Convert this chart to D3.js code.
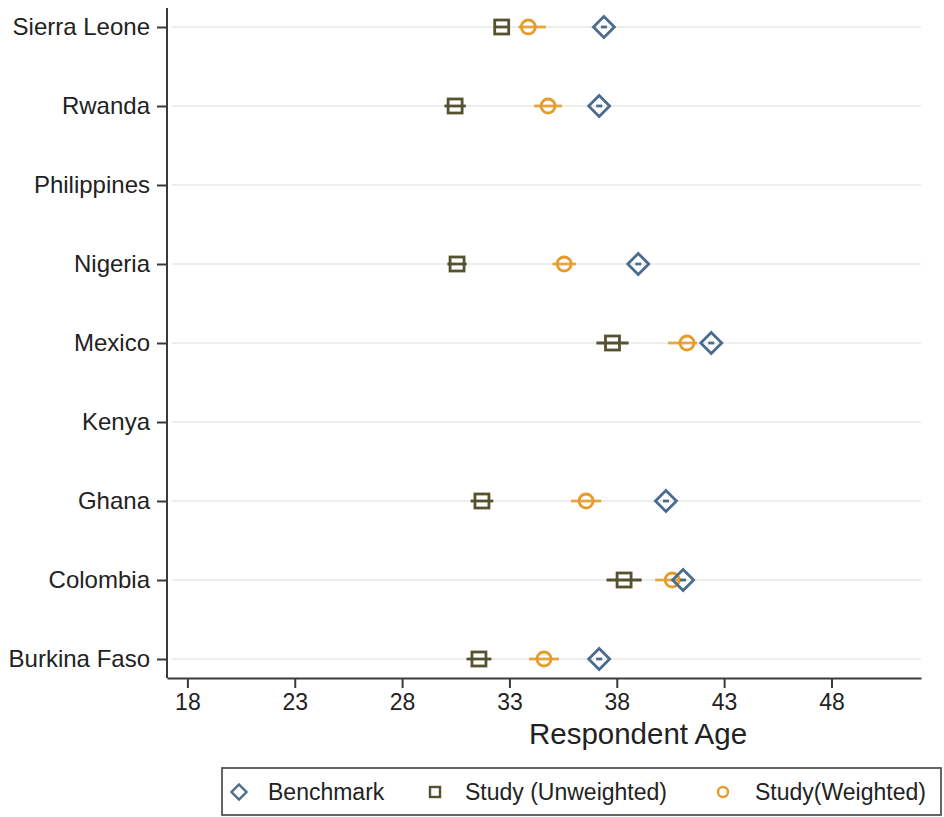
<!DOCTYPE html>
<html>
<head>
<meta charset="utf-8">
<script src="https://cdn.jsdelivr.net/npm/d3@7"></script>
<style>
    body { margin: 0; background: #fff; }
    text { font-family: "Liberation Sans", Arial, sans-serif; fill: #222; }
</style>
</head>
<body>
<div id="plot-canvas"></div>
<script>
// countries, top to bottom
const countries = ["Sierra Leone", "Rwanda", "Philippines", "Nigeria", "Mexico",
    "Kenya", "Ghana", "Colombia", "Burkina Faso"];
const xTicks = [18, 23, 28, 33, 38, 43, 48];

// null = no data for that country
const benchmark = [37.4, 37.18, null, 39.0, 42.4, null, 40.29, 41.09, 37.18];
const unweighted = [32.64, 30.47, null, 30.56, 37.8, null, 31.72, 38.34, 31.58];
const unweightedLo = [32.34, 29.97, null, 30.11, 37.05, null, 31.19, 37.52, 31.0];
const unweightedHi = [32.94, 30.97, null, 31.01, 38.55, null, 32.25, 39.16, 32.16];
const weighted = [33.88, 34.8, null, 35.55, 41.27, null, 36.57, 40.58, 34.61];
const weightedLo = [33.42, 34.15, null, 35.0, 40.39, null, 35.87, 39.79, 33.91];
const weightedHi = [34.7, 35.45, null, 36.1, 41.74, null, 37.27, 41.1, 35.31];

const legendLabels = ["Benchmark", "Study (Unweighted)", "Study(Weighted)"];

const colBench = "#4c6c8e", colUnw = "#55532f", colW = "#e79b2c";

const width = 944, height = 817;
const plot = {left: 167, right: 921, top: 8, bottom: 678};

var svg = d3.select("#plot-canvas").append("svg")
    .attr("width", width)
    .attr("height", height);

const x = d3.scaleLinear().domain([17.05, 52.17]).range([plot.left, plot.right]);
const y = d3.scalePoint().domain(countries).range([27, 659]);

//gridlines
svg.append("g").selectAll("line")
    .data(countries)
    .enter().append("line")
    .attr("x1", plot.left + 5).attr("x2", plot.right)
    .attr("y1", d => y(d)).attr("y2", d => y(d))
    .attr("stroke", "#ededed").attr("stroke-width", 2);

//x axis
const xAxis = d3.axisBottom(x).tickValues(xTicks).tickSize(10).tickPadding(6).tickSizeOuter(0);
const gx = svg.append("g")
    .attr("transform", "translate(0," + plot.bottom + ")")
    .call(xAxis);
gx.select(".domain").attr("stroke", "#3a3a3a").attr("stroke-width", 2);
gx.selectAll(".tick line").attr("stroke", "#3a3a3a").attr("stroke-width", 2);
gx.selectAll(".tick text").style("font-size", "23px").attr("fill", "#222");

svg.append("text")
    .attr("x", 638).attr("y", 744)
    .style("text-anchor", "middle")
    .style("font-size", "29.5px")
    .text("Respondent Age");

//y axis
const yAxis = d3.axisLeft(y).tickSize(10).tickPadding(7).tickSizeOuter(0);
const gy = svg.append("g")
    .attr("transform", "translate(" + plot.left + ",0)")
    .call(yAxis);
gy.select(".domain").attr("d", "M0," + plot.top + "V" + plot.bottom)
    .attr("stroke", "#3a3a3a").attr("stroke-width", 2);
gy.selectAll(".tick line").attr("stroke", "#3a3a3a").attr("stroke-width", 2);
gy.selectAll(".tick text").style("font-size", "24px").attr("fill", "#222");

// rows with data
const rows = countries.map(function (c, i) {
    return {country: c, bench: benchmark[i], unw: unweighted[i], unwLo: unweightedLo[i], unwHi: unweightedHi[i],
        w: weighted[i], wLo: weightedLo[i], wHi: weightedHi[i]};
}).filter(r => r.bench !== null);

const marks = svg.append("g").attr("fill", "none").attr("stroke-width", 2.8);

function drawDiamond(g, cx, cy, r, color) {
    g.append("path")
        .attr("d", "M" + cx + "," + (cy - r) + "L" + (cx + r) + "," + cy + "L" + cx + "," + (cy + r) + "L" + (cx - r) + "," + cy + "Z")
        .attr("stroke", color).attr("fill", "none");
}

rows.forEach(function (r) {
    const cy = y(r.country);
    // unweighted: ci + square
    marks.append("line")
        .attr("x1", x(r.unwLo)).attr("x2", x(r.unwHi)).attr("y1", cy).attr("y2", cy)
        .attr("stroke", colUnw);
    marks.append("rect")
        .attr("x", x(r.unw) - 7).attr("y", cy - 7).attr("width", 14).attr("height", 14)
        .attr("stroke", colUnw);
    // weighted: ci + circle
    marks.append("line")
        .attr("x1", x(r.wLo)).attr("x2", x(r.wHi)).attr("y1", cy).attr("y2", cy)
        .attr("stroke", colW).attr("opacity", 0.9);
    marks.append("circle")
        .attr("cx", x(r.w)).attr("cy", cy).attr("r", 7)
        .attr("stroke", colW);
    // benchmark
    marks.append("line")
        .attr("x1", x(r.bench) - 3).attr("x2", x(r.bench) + 3).attr("y1", cy).attr("y2", cy)
        .attr("stroke", colBench);
    drawDiamond(marks, x(r.bench), cy, 10.5, colBench);
});

//legend
const legend = svg.append("g");
legend.append("rect")
    .attr("x", 222).attr("y", 768).attr("width", 719).attr("height", 47)
    .attr("fill", "#fff").attr("stroke", "#555").attr("stroke-width", 1.8);

const legendX = [239, 435, 723];
const legendTextX = [268, 465, 755];
const ly = 792;
const lg = legend.append("g").attr("fill", "none").attr("stroke-width", 2.4);
drawDiamond(lg, legendX[0], ly, 7.5, colBench);
lg.append("rect").attr("x", legendX[1] - 5).attr("y", ly - 5).attr("width", 10).attr("height", 10).attr("stroke", colUnw);
lg.append("circle").attr("cx", legendX[2]).attr("cy", ly).attr("r", 5).attr("stroke", colW);

legend.selectAll("text.leg")
    .data(legendLabels)
    .enter().append("text")
    .attr("class", "leg")
    .attr("x", (d, i) => legendTextX[i])
    .attr("y", ly + 8)
    .style("font-size", "23px")
    .text(d => d);
</script>
</body>
</html>
